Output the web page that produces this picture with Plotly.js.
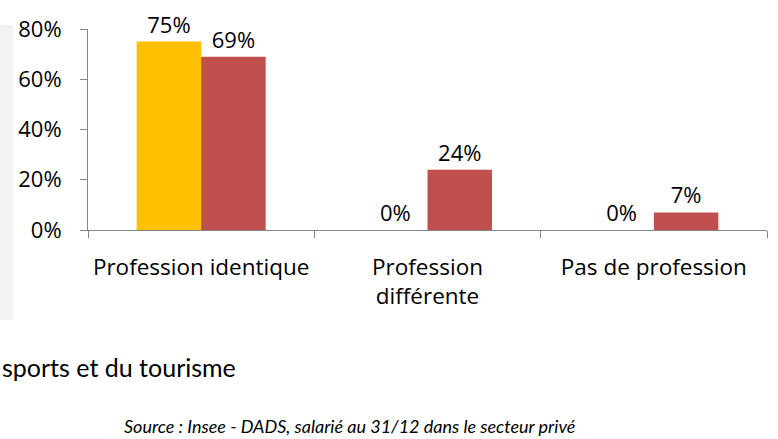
<!DOCTYPE html>
<html>
<head>
<meta charset="utf-8">
<script src="https://cdn.plot.ly/plotly-3.0.1.min.js"></script>
<style>html,body{margin:0;padding:0;background:#fff;}#chart{width:778px;height:439px;}</style>
</head>
<body>
<div id="chart"></div>
<script>
const categories = ["Profession identique", "Profession<br>différente", "Pas de profession"];
const seriesA = [75, 0, 0];
const seriesB = [69, 24, 7];
const yTickVals = [0, 20, 40, 60, 80];
const yTickText = ["0%", "20%", "40%", "60%", "80%"];
const footerText = "sports et du tourisme";
const sourceText = "Source : Insee - DADS, salarié au 31/12 dans le secteur privé";

const W = 778, H = 439, L = 88, R = 11, T = 29, B = 209;
const pw = W - L - R, ph = H - T - B;
const px = p => (p - L) / pw;
const py = p => (H - B - p) / ph;

const labelFont = {family: "Open Sans, sans-serif", size: 22, color: "#000"};

const traces = [
  {type: "bar", x: categories, y: seriesA, marker: {color: "#FFC000"},
   text: seriesA.map(v => v + "%"), textposition: "outside", cliponaxis: false,
   textfont: labelFont, hoverinfo: "none"},
  {type: "bar", x: categories, y: seriesB, marker: {color: "#C0504D"},
   text: seriesB.map(v => v + "%"), textposition: "outside", cliponaxis: false,
   textfont: labelFont, hoverinfo: "none"}
];

const layout = {
  width: W, height: H,
  margin: {l: L, r: R, t: T, b: B, pad: 0},
  paper_bgcolor: "#fff", plot_bgcolor: "#fff",
  showlegend: false,
  barmode: "group", bargap: 0.43, bargroupgap: 0,
  font: labelFont,
  xaxis: {type: "category", showline: true, linecolor: "#868686", linewidth: 1,
    ticks: "outside", tickson: "boundaries", ticklen: 7, tickcolor: "#868686",
    showgrid: false, zeroline: false, tickangle: 0,
    tickfont: {family: "Open Sans, sans-serif", size: 22.5, color: "#000"},
    automargin: false, ticklabelstandoff: 17},
  yaxis: {range: [0, 80], tickvals: yTickVals, ticktext: yTickText,
    showline: true, linecolor: "#868686", linewidth: 1, ticks: "outside",
    ticklen: 7, tickcolor: "#868686", showgrid: false, zeroline: false,
    tickfont: labelFont, automargin: false, ticklabelstandoff: 14},
  shapes: [
    {type: "rect", xref: "paper", yref: "paper", x0: px(0), x1: px(13), y0: py(320), y1: py(25),
     fillcolor: "#F2F2F2", line: {width: 0}, layer: "below"}
  ],
  annotations: [
    {xref: "paper", yref: "paper", x: px(0), y: py(367), xanchor: "left", yanchor: "middle",
     text: footerText, showarrow: false, font: {family: "Lato, sans-serif", size: 25, color: "#000"}},
    {xref: "paper", yref: "paper", x: px(350), y: py(426), xanchor: "center", yanchor: "middle",
     text: "<i>" + sourceText + "</i>", showarrow: false, font: {family: "Lato, sans-serif", size: 18, color: "#000"}}
  ]
};

Plotly.newPlot("chart", traces, layout, {displayModeBar: false, staticPlot: true});
</script>
</body>
</html>
